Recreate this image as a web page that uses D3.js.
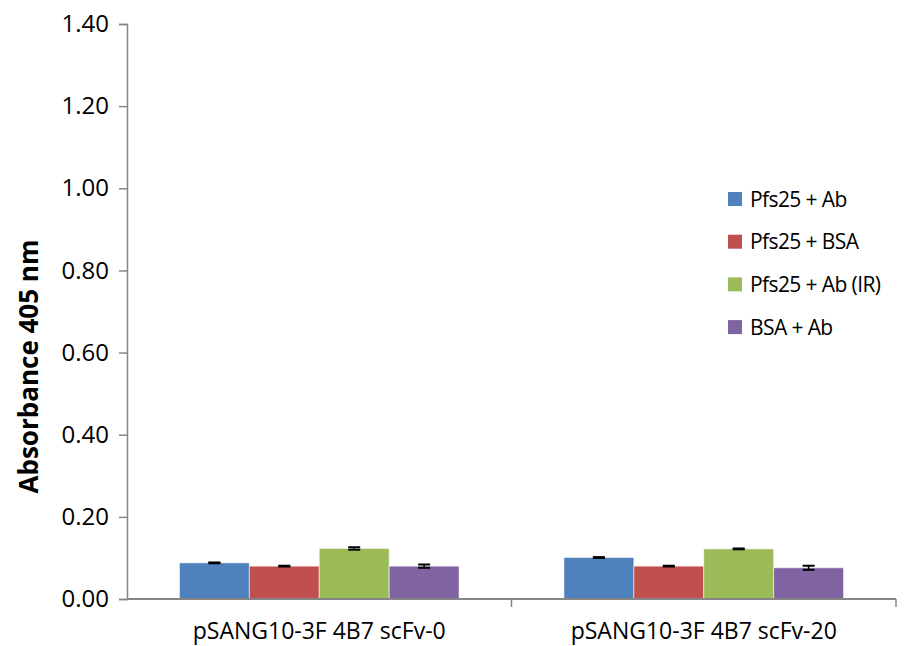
<!DOCTYPE html>
<html>
<head>
<meta charset="utf-8">
<script src="https://d3js.org/d3.v7.min.js"></script>
<style>
  body { margin: 0; background: #fff; }
  svg text { font-family: "Open Sans", Lato, sans-serif; fill: #000; }
</style>
</head>
<body>
<svg id="chart" width="908" height="646"></svg>
<script>
// Absorbance readings per construct
const categories = ["pSANG10-3F 4B7 scFv-0", "pSANG10-3F 4B7 scFv-20"];
const seriesNames = ["Pfs25 + Ab", "Pfs25 + BSA", "Pfs25 + Ab (IR)", "BSA + Ab"];
const seriesColors = ["#4F81BD", "#C0504D", "#9BBB59", "#8064A2"];
const pfs25Ab    = [0.088, 0.101];
const pfs25Bsa   = [0.080, 0.080];
const pfs25AbIR  = [0.123, 0.122];
const bsaAb      = [0.080, 0.076];
const pfs25AbErr   = [0.001, 0.001];
const pfs25BsaErr  = [0.001, 0.001];
const pfs25AbIRErr = [0.003, 0.001];
const bsaAbErr     = [0.004, 0.005];
const yTicks = [0, 0.2, 0.4, 0.6, 0.8, 1.0, 1.2, 1.4];

const seriesValues = [pfs25Ab, pfs25Bsa, pfs25AbIR, bsaAb];
const seriesErrors = [pfs25AbErr, pfs25BsaErr, pfs25AbIRErr, bsaAbErr];

const svg = d3.select("#chart");
const plot = { left: 127, right: 896, top: 24, bottom: 599 };

const x0 = d3.scaleBand().domain(categories).range([plot.left, plot.right]).padding(0);
const x1 = d3.scaleBand().domain(seriesNames).range([0, x0.bandwidth()]).paddingInner(0).paddingOuter(0.75);
const y = d3.scaleLinear().domain([0, 1.4]).range([plot.bottom, plot.top]);

const rows = (c, ci) => seriesNames.map((s, si) => ({ s, si, v: seriesValues[si][ci], e: seriesErrors[si][ci] }));

// Bars
const groups = svg.append("g").selectAll("g")
  .data(categories)
  .join("g")
  .attr("transform", d => `translate(${x0(d)},0)`);

groups.selectAll("rect")
  .data(rows)
  .join("rect")
  .attr("x", d => x1(d.s))
  .attr("y", d => y(d.v))
  .attr("width", x1.bandwidth())
  .attr("height", d => y(0) - y(d.v))
  .attr("fill", d => seriesColors[d.si])
  .attr("stroke", "rgba(255,255,255,0.55)")
  .attr("stroke-width", 1);

// Error bars
const err = groups.selectAll("g.err")
  .data(rows)
  .join("g").attr("class", "err")
  .attr("stroke", "#000").attr("stroke-width", 1.5);
err.append("line")
  .attr("x1", d => x1(d.s) + x1.bandwidth() / 2)
  .attr("x2", d => x1(d.s) + x1.bandwidth() / 2)
  .attr("y1", d => y(d.v + d.e))
  .attr("y2", d => y(d.v - d.e));
err.selectAll("line.cap")
  .data(d => [d.v + d.e, d.v - d.e].map(v => ({ v, cx: x1(d.s) + x1.bandwidth() / 2 })))
  .join("line").attr("class", "cap")
  .attr("x1", d => d.cx - 6)
  .attr("x2", d => d.cx + 6)
  .attr("y1", d => y(d.v))
  .attr("y2", d => y(d.v))
  .attr("stroke-width", 2);

// Y axis
const yAxis = svg.append("g")
  .attr("transform", `translate(${plot.left},0)`)
  .call(d3.axisLeft(y).tickValues(yTicks).tickFormat(d3.format(".2f")).tickSizeOuter(0).tickSize(8).tickPadding(10));
yAxis.select(".domain").attr("stroke", "#868686").attr("stroke-width", 1.5);
yAxis.selectAll(".tick line").attr("stroke", "#868686").attr("stroke-width", 1.5);
yAxis.selectAll(".tick text").style("font-size", "24px").attr("fill", "#000");

// X axis with boundary ticks between categories
const xAxisG = svg.append("g").attr("transform", `translate(0,${plot.bottom})`);
xAxisG.append("line")
  .attr("x1", plot.left).attr("x2", plot.right)
  .attr("stroke", "#868686").attr("stroke-width", 2);
const bounds = categories.map(c => x0(c)).concat([x0(categories[categories.length - 1]) + x0.bandwidth()]);
xAxisG.selectAll("line.bt")
  .data(bounds.slice(1))
  .join("line").attr("class", "bt")
  .attr("x1", d => d).attr("x2", d => d)
  .attr("y1", 0).attr("y2", 8)
  .attr("stroke", "#868686").attr("stroke-width", 1.5);
xAxisG.selectAll("text")
  .data(categories)
  .join("text")
  .attr("x", d => x0(d) + x0.bandwidth() / 2)
  .attr("y", 40)
  .attr("text-anchor", "middle")
  .style("font-size", "23px")
  .text(d => d);

// Y axis title
svg.append("text")
  .attr("transform", `translate(38,${(plot.top + plot.bottom) / 2 + 55}) rotate(-90)`)
  .attr("text-anchor", "middle")
  .style("font-size", "26px")
  .style("font-weight", "bold")
  .text("Absorbance 405 nm");

// Legend
const legend = svg.append("g").attr("transform", "translate(728,199)");
const items = legend.selectAll("g")
  .data(seriesNames)
  .join("g")
  .attr("transform", (d, i) => `translate(0,${i * 42.7})`);
items.append("rect")
  .attr("x", 0).attr("y", -7)
  .attr("width", 14).attr("height", 14)
  .attr("fill", (d, i) => seriesColors[i]);
items.append("text")
  .attr("x", 22).attr("y", 0)
  .attr("dy", "0.36em")
  .style("font-size", "21px")
  .style("letter-spacing", "-0.6px")
  .text(d => d);
</script>
</body>
</html>
